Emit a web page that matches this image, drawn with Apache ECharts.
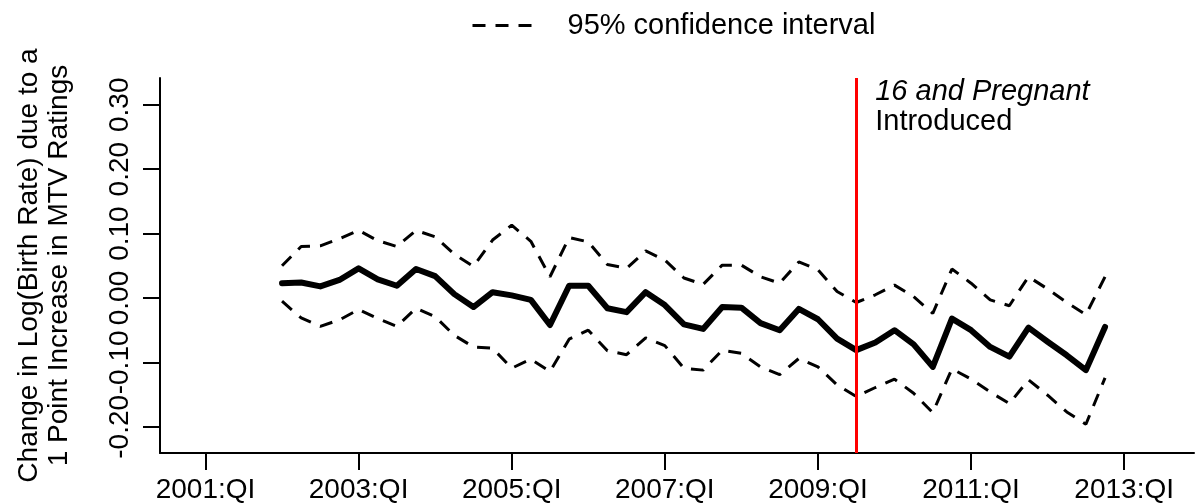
<!DOCTYPE html>
<html>
<head>
<meta charset="utf-8">
<script src="https://cdn.jsdelivr.net/npm/echarts@6/dist/echarts.min.js"></script>
<style>
html,body{margin:0;padding:0;background:#fff;}
#c{width:1199px;height:504px;}
</style>
</head>
<body>
<div id="c"></div>
<script>
// Quarters (decimal year: 2002:QI = 2002.00, QII = .25, QIII = .50, QIV = .75)
const periods = [
  2002.00,2002.25,2002.50,2002.75,2003.00,2003.25,2003.50,2003.75,
  2004.00,2004.25,2004.50,2004.75,2005.00,2005.25,2005.50,2005.75,
  2006.00,2006.25,2006.50,2006.75,2007.00,2007.25,2007.50,2007.75,
  2008.00,2008.25,2008.50,2008.75,2009.00,2009.25,2009.50,2009.75,
  2010.00,2010.25,2010.50,2010.75,2011.00,2011.25,2011.50,2011.75,
  2012.00,2012.25,2012.50,2012.75
];
const estimate = [
  0.023,0.024,0.018,0.028,0.046,0.029,0.019,0.045,
  0.034,0.006,-0.014,0.009,0.004,-0.003,-0.042,0.019,
  0.019,-0.016,-0.022,0.009,-0.011,-0.041,-0.048,-0.014,
  -0.015,-0.039,-0.050,-0.017,-0.033,-0.063,-0.081,-0.069,
  -0.050,-0.072,-0.107,-0.032,-0.050,-0.076,-0.091,-0.046,
  -0.068,-0.089,-0.112,-0.045
];
const upperCI = [
  0.050,0.080,0.081,0.092,0.105,0.089,0.080,0.105,
  0.095,0.068,0.049,0.090,0.113,0.088,0.033,0.094,
  0.087,0.052,0.046,0.073,0.059,0.031,0.021,0.051,
  0.051,0.033,0.023,0.056,0.044,0.010,-0.007,0.005,
  0.020,0.002,-0.024,0.045,0.023,-0.003,-0.012,0.033,
  0.014,-0.007,-0.026,0.033
];
const lowerCI = [
  -0.005,-0.031,-0.044,-0.034,-0.018,-0.032,-0.044,-0.016,
  -0.029,-0.058,-0.076,-0.078,-0.109,-0.095,-0.114,-0.064,
  -0.050,-0.082,-0.088,-0.062,-0.074,-0.109,-0.112,-0.081,
  -0.086,-0.107,-0.119,-0.094,-0.107,-0.135,-0.153,-0.139,
  -0.126,-0.148,-0.178,-0.110,-0.126,-0.146,-0.164,-0.127,
  -0.151,-0.177,-0.196,-0.124
];
const xTickValues = [2001, 2003, 2005, 2007, 2009, 2011, 2013];
const xTickLabels = ['2001:QI','2003:QI','2005:QI','2007:QI','2009:QI','2011:QI','2013:QI'];
const yTickValues = [-0.2, -0.1, 0.0, 0.1, 0.2, 0.3];
const yTickLabels = ['-0.20','-0.10','0.00','0.10','0.20','0.30'];
const introducedAt = 2009.50;  // 2009:QIII
const annotationY = 0.2966;
const ciName = '95% confidence interval';

const FONT = '"Liberation Sans", Arial, Helvetica, sans-serif';
const pair = (arr) => arr.map((v, i) => [periods[i], v]);

const chart = echarts.init(document.getElementById('c'), null, {renderer: 'canvas'});
chart.setOption({
  animation: false,
  backgroundColor: '#ffffff',
  color: ['#000000'],
  textStyle: {fontFamily: FONT, color: '#000'},
  grid: {left: 160, top: 78, width: 1034, height: 375, containLabel: false},
  legend: {
    data: [ciName],
    left: 466, top: 6,
    itemWidth: 60, itemHeight: 14,
    lineStyle: {type: [13, 10], width: 3, color: '#000'},
    itemStyle: {opacity: 0},
    textStyle: {fontSize: 29, fontFamily: FONT, color: '#000', padding: [0, 0, 0, 30]},
    selectedMode: false
  },
  xAxis: {
    type: 'value',
    min: 2000.406, max: 2013.912,
    axisLine: {show: true, onZero: false, lineStyle: {color: '#000', width: 2}},
    axisTick: {show: true, inside: false, length: 17, lineStyle: {color: '#000', width: 2}, customValues: xTickValues},
    axisLabel: {
      show: true, customValues: xTickValues, margin: 23,
      fontSize: 28, fontFamily: FONT, color: '#000',
      formatter: (v) => xTickLabels[xTickValues.indexOf(v)] || ''
    },
    splitLine: {show: false}
  },
  yAxis: {
    type: 'value',
    min: -0.2407, max: 0.3416,
    name: 'Change in Log(Birth Rate) due to a\n1 Point Increase in MTV Ratings',
    nameLocation: 'middle', nameGap: 86, nameRotate: 90,
    nameTextStyle: {fontSize: 28, fontFamily: FONT, color: '#000', lineHeight: 30},
    axisLine: {show: true, onZero: false, lineStyle: {color: '#000', width: 2}},
    axisTick: {show: true, inside: false, length: 17, lineStyle: {color: '#000', width: 2}, customValues: yTickValues},
    axisLabel: {
      show: true, customValues: yTickValues, rotate: 90, margin: 26,
      fontSize: 28, fontFamily: FONT, color: '#000',
      formatter: (v) => {
        const k = yTickValues.findIndex(t => Math.abs(t - v) < 1e-9);
        return k >= 0 ? yTickLabels[k] : '';
      }
    },
    splitLine: {show: false}
  },
  series: [
    {
      name: ciName, type: 'line', data: pair(upperCI), symbol: 'none', z: 2,
      itemStyle: {color: '#000'},
      lineStyle: {color: '#000', width: 3, type: [13, 10]}
    },
    {
      name: ciName, type: 'line', data: pair(lowerCI), symbol: 'none', z: 2,
      itemStyle: {color: '#000'},
      lineStyle: {color: '#000', width: 3, type: [13, 10]}
    },
    {
      name: 'Estimate', type: 'line', data: pair(estimate), symbol: 'none', z: 3,
      itemStyle: {color: '#000'},
      lineStyle: {color: '#000', width: 6, join: 'round', cap: 'round'},
      markLine: {
        silent: true, symbol: 'none', animation: false,
        lineStyle: {color: '#ff0000', width: 3, type: 'solid'},
        label: {show: false},
        data: [{xAxis: introducedAt}]
      },
      markPoint: {
        silent: true, symbol: 'circle', symbolSize: 0, animation: false,
        data: [{coord: [introducedAt, annotationY]}],
        label: {
          show: true, position: 'right', distance: 19,
          formatter: '{a|16 and Pregnant}\n{b|Introduced}',
          rich: {
            a: {fontSize: 29, fontStyle: 'italic', fontFamily: FONT, color: '#000', lineHeight: 30},
            b: {fontSize: 29, fontFamily: FONT, color: '#000', lineHeight: 30}
          }
        }
      }
    }
  ]
});
</script>
</body>
</html>
